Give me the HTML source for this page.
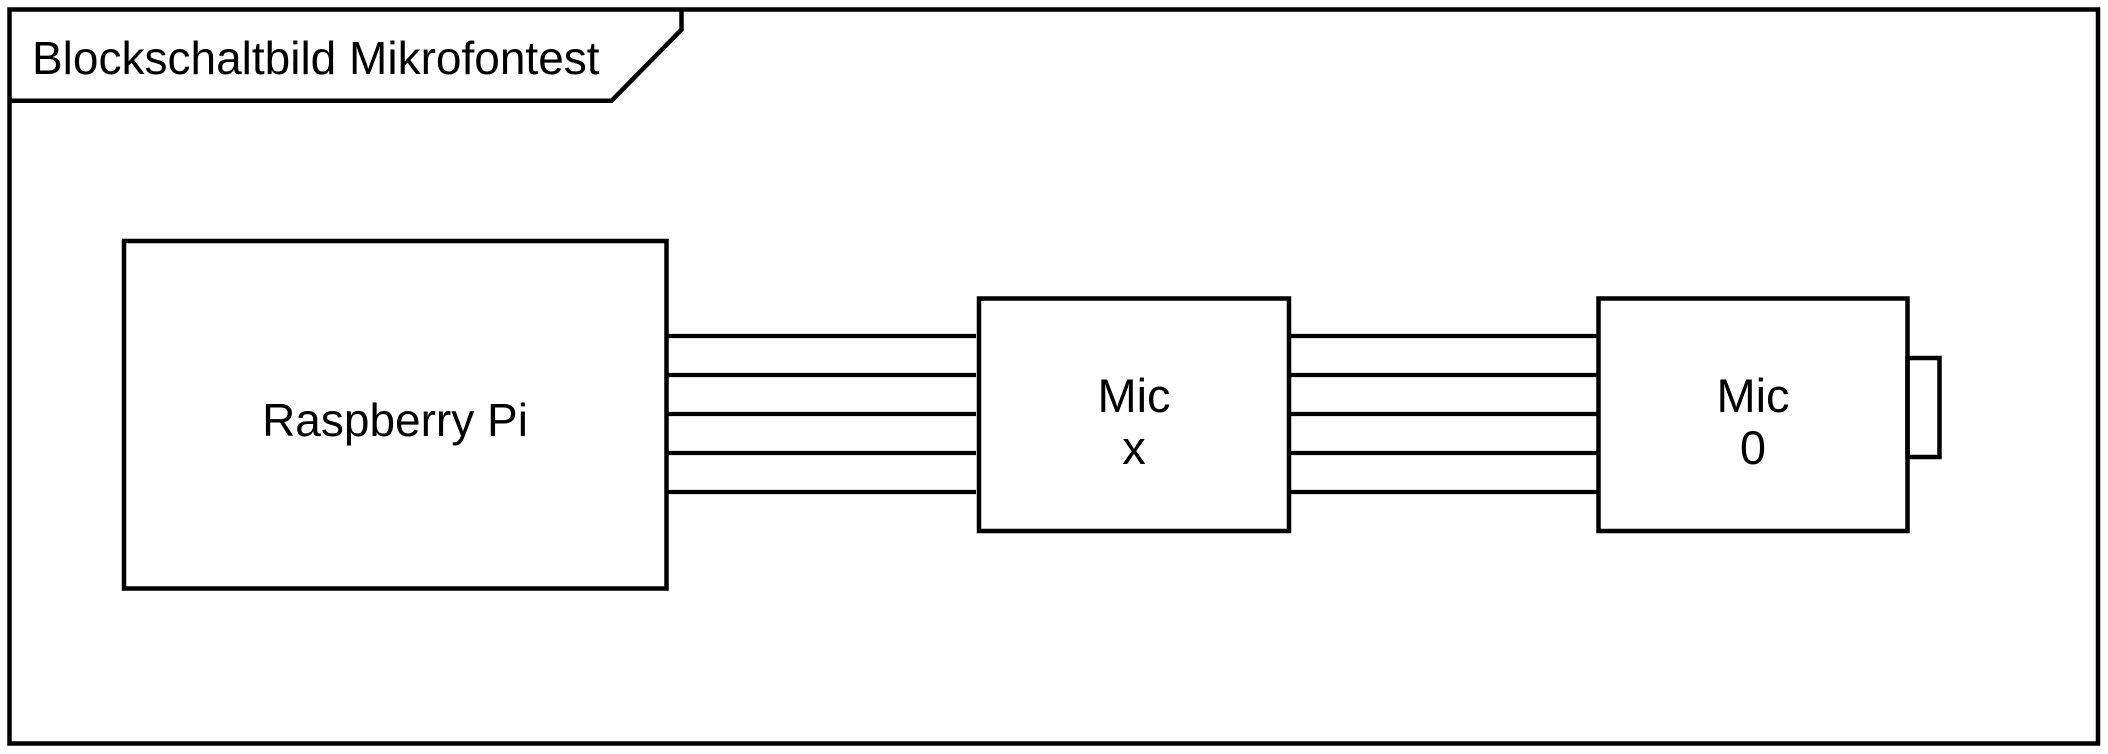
<!DOCTYPE html>
<html><head><meta charset="utf-8"><style>
html,body{margin:0;padding:0;background:#fff;}
svg{display:block;}
text{font-family:"Liberation Sans",Arial,sans-serif;fill:#000;}
</style></head><body>
<svg width="2108" height="754" viewBox="0 0 2108 754" xmlns="http://www.w3.org/2000/svg">
<g fill="none" stroke="#000" stroke-width="4.5">
<rect x="9.5" y="9.5" width="2088.5" height="734" fill="#fff"/>
<polyline points="9.5,100.8 611.5,100.8 681.5,29.6 681.5,9.5"/>
<rect x="124" y="241" width="542.5" height="347.5"/>
<rect x="979" y="298.5" width="310" height="232.5"/>
<rect x="1598.5" y="298.5" width="309" height="232.5"/>
<rect x="1907.5" y="358" width="32" height="99"/>
<g stroke-width="4.2">
<line x1="666.5" y1="336" x2="976" y2="336"/>
<line x1="666.5" y1="375" x2="976" y2="375"/>
<line x1="666.5" y1="414" x2="976" y2="414"/>
<line x1="666.5" y1="453" x2="976" y2="453"/>
<line x1="666.5" y1="492" x2="976" y2="492"/>
<line x1="1289" y1="336" x2="1598.5" y2="336"/>
<line x1="1289" y1="375" x2="1598.5" y2="375"/>
<line x1="1289" y1="414" x2="1598.5" y2="414"/>
<line x1="1289" y1="453" x2="1598.5" y2="453"/>
<line x1="1289" y1="492" x2="1598.5" y2="492"/>
</g>
</g>
<text x="32" y="74" font-size="46">Blockschaltbild Mikrofontest</text>
<text x="395" y="436" font-size="46" text-anchor="middle">Raspberry Pi</text>
<text x="1134" y="412" font-size="47" text-anchor="middle">Mic</text>
<text x="1134" y="464" font-size="47" text-anchor="middle">x</text>
<text x="1753" y="412" font-size="47" text-anchor="middle">Mic</text>
<text x="1753" y="464" font-size="47" text-anchor="middle">0</text>
</svg>
</body></html>
